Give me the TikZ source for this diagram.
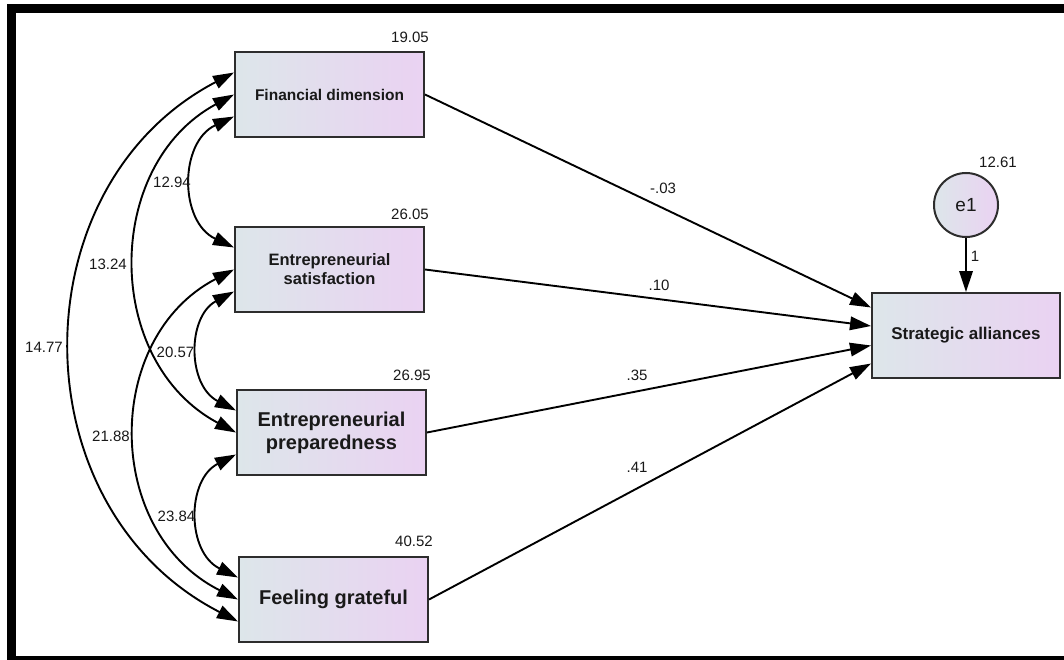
\documentclass[tikz,border=0pt]{standalone}
\usepackage{fontspec}
\setmainfont{Liberation Sans}
\usetikzlibrary{arrows.meta,calc}

\definecolor{boxL}{RGB}{221,230,234}
\definecolor{boxR}{RGB}{234,210,242}
\definecolor{edgegray}{RGB}{45,45,45}
\definecolor{ink}{RGB}{25,25,25}

\begin{document}
\begin{tikzpicture}[x=1pt,y=-1pt,
  var/.style={draw=edgegray, line width=2pt, left color=boxL, right color=boxR,
    minimum width=189pt, minimum height=85pt, inner sep=0pt, align=center, text=ink},
  err/.style={circle, draw=edgegray, line width=2pt, left color=boxL, right color=boxR,
    minimum size=64pt, inner sep=0pt, text=ink, font=\fontsize{19}{22}\selectfont},
  num/.style={text=ink, inner sep=0pt, font=\fontsize{15}{18}\selectfont},
  regpath/.style={line width=1.9pt, -{Triangle[length=21pt,width=13.5pt]}},
  cov/.style={line width=1.9pt, {Triangle[length=21pt,width=13.5pt]}-{Triangle[length=21pt,width=13.5pt]}}
]
\useasboundingbox (0,0) rectangle (1064,660);
\fill[white] (0,0) rectangle (1064,660);
% outer frame
\draw[line width=9pt] (11.5,8.5) rectangle (1075,660.5);

% observed variables
\node[var, font=\fontsize{15.5}{18}\selectfont\bfseries] (fd) at (329.5,94.5) {Financial dimension};
\node[var, font=\fontsize{16.5}{19}\selectfont\bfseries] (es) at (329.5,269.5) {Entrepreneurial\\satisfaction};
\node[var, font=\fontsize{20}{23}\selectfont\bfseries] (ep) at (331.5,432.5) {Entrepreneurial\\preparedness};
\node[var, font=\fontsize{20}{23}\selectfont\bfseries] (fg) at (333.5,599.5) {Feeling grateful};
\node[var, minimum width=188pt, font=\fontsize{17}{20}\selectfont\bfseries] (sa) at (966,335.5) {Strategic alliances};
\node[err] (e1) at (966,205) {e1};

% variances
\node[num] at (410,37.5) {19.05};
\node[num] at (410,214) {26.05};
\node[num] at (412,375) {26.95};
\node[num] at (414,541.5) {40.52};
\node[num] at (998,162) {12.61};

% regression paths
\draw[regpath] (fd.east) -- ($(sa.west)+(0,-28)$);
\draw[regpath] (es.east) -- ($(sa.west)+(0,-9.5)$);
\draw[regpath] (ep.east) -- ($(sa.west)+(0,10)$);
\draw[regpath] (fg.east) -- ($(sa.west)+(0,28)$);
\draw[regpath] (e1.south) -- (sa.north);

\node[num] at (663,188) {-.03};
\node[num] at (659,285) {.10};
\node[num] at (637,375) {.35};
\node[num] at (637,467) {.41};
\node[num] at (975,256) {1};

% covariances
\draw[cov] ($(fd.west)+(0,22)$) .. controls +(-55,25.7) and +(-55,-25.7) .. ($(es.west)+(0,-22)$);
\draw[cov] ($(fd.west)+(0,0)$) .. controls +(-131,70.7) and +(-133,-70.7) .. ($(ep.west)+(0,0)$);
\draw[cov] ($(fd.west)+(0,-22)$) .. controls +(-217,113.4) and +(-221,-113.4) .. ($(fg.west)+(0,22)$);
\draw[cov] ($(es.west)+(0,22)$) .. controls +(-47,25.2) and +(-49,-25.2) .. ($(ep.west)+(0,-22)$);
\draw[cov] ($(es.west)+(0,0)$) .. controls +(-131,68) and +(-135,-68) .. ($(fg.west)+(0,0)$);
\draw[cov] ($(ep.west)+(0,22)$) .. controls +(-49.6,25.3) and +(-51.6,-25.3) .. ($(fg.west)+(0,-22)$);

\node[num] at (172,182.5) {12.94};
\node[num] at (108,264) {13.24};
\node[num] at (44,347.5) {14.77};
\node[num] at (175.5,352.5) {20.57};
\node[num] at (111,436.5) {21.88};
\node[num] at (176.5,516.5) {23.84};
\end{tikzpicture}
\end{document}
